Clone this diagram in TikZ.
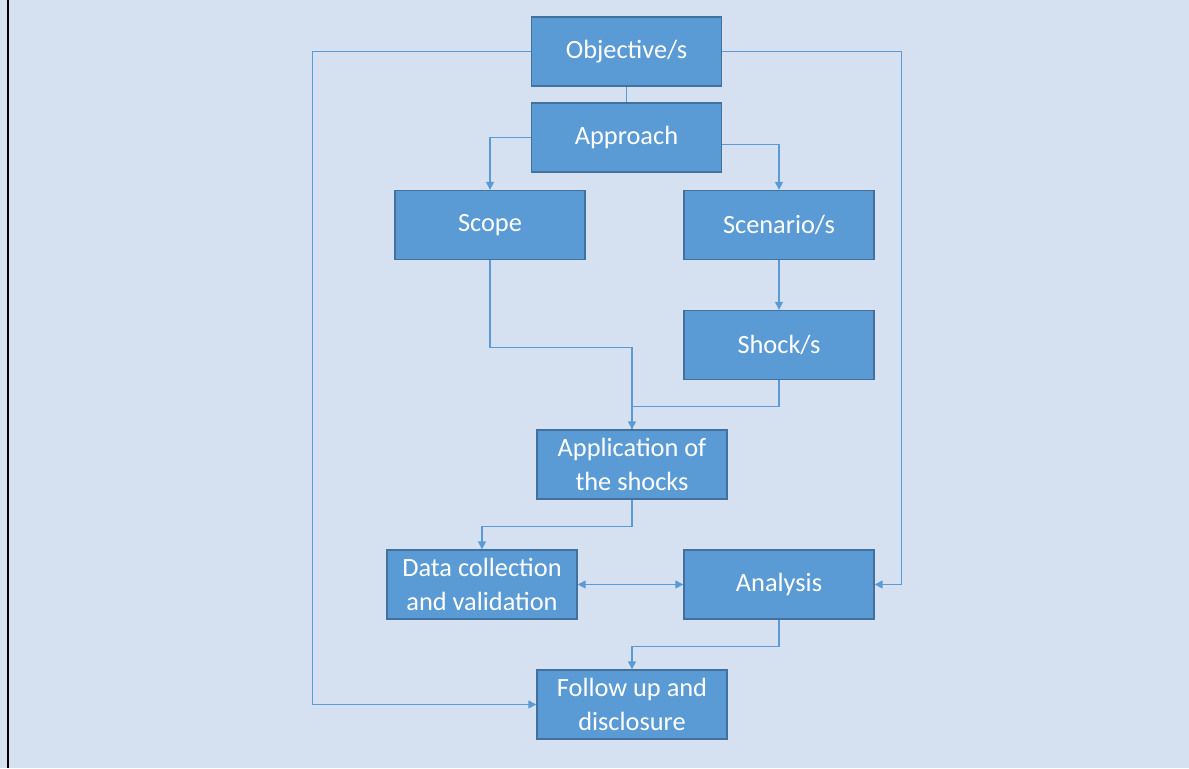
\documentclass[tikz,border=0pt]{standalone}
\usepackage{fontspec}
\setmainfont{Carlito}
\usetikzlibrary{arrows.meta}

\definecolor{bgblue}{HTML}{D5E0F1}
\definecolor{boxblue}{HTML}{5B9BD5}
\definecolor{boxedge}{HTML}{41719C}
\definecolor{linkblue}{HTML}{5B9BD5}

\tikzset{
  stagebox/.style={rectangle, fill=boxblue, draw=boxedge, line width=0.8pt,
    minimum width=3.8cm, minimum height=1.38cm, inner sep=2pt,
    text=white, align=center, font=\fontsize{15}{19.3}\selectfont},
  link/.style={draw=linkblue, line width=0.75pt},
  arr/.style={link, -{Triangle[length=4.5pt,width=4.5pt]}},
  dblarr/.style={link, {Triangle[length=4.5pt,width=4.5pt]}-{Triangle[length=4.5pt,width=4.5pt]}}
}

\begin{document}
\begin{tikzpicture}[x=0.02cm, y=-0.02cm]
    % page
    \fill[bgblue] (0,0) rectangle (1189,768);
    \useasboundingbox (0,0) rectangle (1189,768);
    \draw[black, line width=0.06cm] (8,0) -- (8,768);

    % stages
    \node[stagebox] (obj)    at (626.5,51.5)  {Objective/s};
    \node[stagebox] (appr)   at (626.5,137.5) {Approach};
    \node[stagebox] (scope)  at (490,225)     {Scope};
    \node[stagebox] (scen)   at (779,225)     {Scenario/s};
    \node[stagebox] (shock)  at (779,345)     {Shock/s};
    \node[stagebox] (app)    at (632,464.5)   {Application of\\the shocks};
    \node[stagebox] (data)   at (482,584.5)   {Data collection\\and validation};
    \node[stagebox] (anal)   at (779,584.5)   {Analysis};
    \node[stagebox] (follow) at (632,704.5)   {Follow up and\\disclosure};

    % links
    \draw[link] (obj.south) -- (appr.north);
    \draw[arr] (obj.west) -- ++(-218,0) |- (follow.west);
    \draw[arr] (obj.east) -- ++(179,0) |- (anal.east);
    \draw[arr] (appr.west) -| (scope.north);
    \draw[arr] ([yshift=-0.14cm]appr.east) -| (scen.north);
    \draw[arr] (scen.south) -- (shock.north);
    \draw[arr] (scope.south) -- ++(0,87) -| (app.north);
    \draw[link] (shock.south) -- ++(0,26) -| (app.north);
    \draw[arr] (app.south) -- ++(0,27) -| (data.north);
    \draw[dblarr] (data.east) -- (anal.west);
    \draw[arr] (anal.south) -- ++(0,27) -| (follow.north);
\end{tikzpicture}
\end{document}
